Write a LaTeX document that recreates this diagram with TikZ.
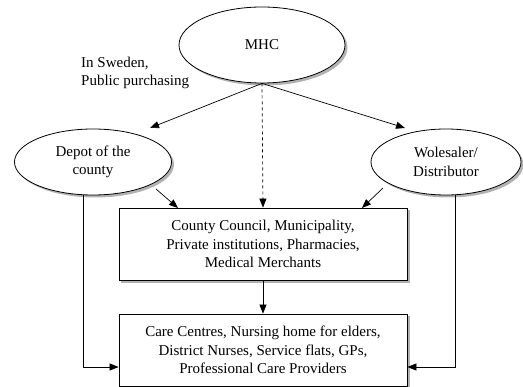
\documentclass[tikz,border=0pt]{standalone}
\usepackage{fontspec}
\setmainfont{Liberation Serif}
\usetikzlibrary{shapes.geometric,arrows.meta,backgrounds}
\begin{document}
\begin{tikzpicture}[x=1pt,y=-1pt,
  every node/.style={font=\fontsize{15}{18.3}\selectfont},
  ell/.style={ellipse,draw,fill=white,line width=0.8pt,align=center,inner sep=0pt},
  boxn/.style={rectangle,draw,fill=white,line width=0.8pt,align=center,inner sep=0pt,
    minimum width=288pt,minimum height=72pt},
  shd/.style={fill=gray!60},
  arr/.style={line width=0.7pt,-{Triangle[length=9pt,width=7pt]}}]
\useasboundingbox (0,0) rectangle (523,387);
\node[ell,minimum width=166pt,minimum height=76pt] (mhc) at (262,45) {MHC};
\node[ell,minimum width=157pt,minimum height=66pt] (dep) at (93,162) {Depot of the\\county};
\node[ell,minimum width=150pt,minimum height=66pt] (wol) at (446,162) {Wolesaler/\\Distributor};
\node[boxn] (b1) at (263,244) {County Council, Municipality,\\Private institutions, Pharmacies,\\Medical Merchants};
\node[boxn] (b2) at (263,350) {Care Centres, Nursing home for elders,\\District Nurses, Service flats, GPs,\\Professional Care Providers};
\node[anchor=north west,align=left,inner sep=0pt] (sw) at (81,57) {In Sweden,\\Public purchasing};
\begin{scope}[on background layer]
\fill[shd] ([shift={(2.5,2.5)}]mhc.center) ellipse [x radius=83, y radius=38];
\fill[shd] ([shift={(2.5,2.5)}]dep.center) ellipse [x radius=78.5, y radius=33];
\fill[shd] ([shift={(2.5,2.5)}]wol.center) ellipse [x radius=75, y radius=33];
\fill[shd] ([shift={(2.5,2.5)}]b1.north west) rectangle ([shift={(2.5,2.5)}]b1.south east);
\fill[shd] ([shift={(2.5,2.5)}]b2.north west) rectangle ([shift={(2.5,2.5)}]b2.south east);
\end{scope}
\coordinate (dl) at (83,367);
\coordinate (wl) at (455,367);
\draw[arr] (mhc.south) -- (150,128);
\draw[arr] (mhc.south) -- (405,128);
\draw[arr,dashed] (mhc.south) -- (b1.north);
\draw[arr] (156,189) -- (178,208);
\draw[arr] (383,188) -- (362,208);
\draw[arr] (b1.south) -- (b2.north);
\draw[arr] (dl |- dep.south) -- (dl) -- (b2.west |- dl);
\draw[arr] (wl |- wol.south) -- (wl) -- (b2.east |- wl);
\end{tikzpicture}
\end{document}
